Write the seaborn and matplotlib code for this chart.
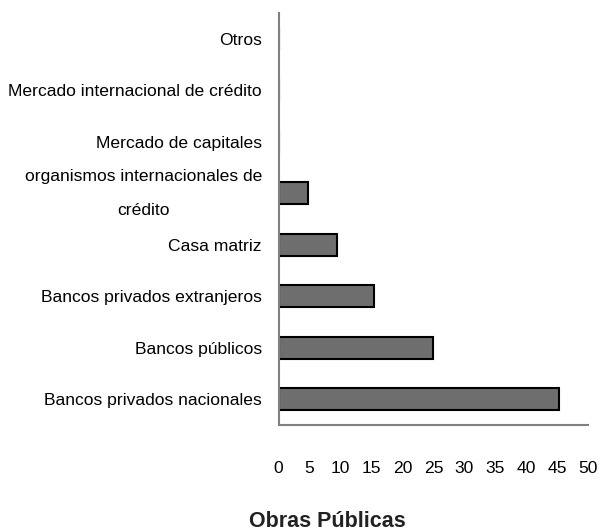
import matplotlib
matplotlib.use("Agg")
import matplotlib.pyplot as plt
import seaborn as sns
import pandas as pd
from matplotlib import font_manager

categories = [
    "Otros",
    "Mercado internacional de crédito",
    "Mercado de capitales",
    "organismos internacionales de\ncrédito",
    "Casa matriz",
    "Bancos privados extranjeros",
    "Bancos públicos",
    "Bancos privados nacionales",
]
values = [0, 0, 0, 4.7, 9.5, 15.4, 25.0, 45.3]
xticks = [0, 5, 10, 15, 20, 25, 30, 35, 40, 45, 50]
title = "Obras Públicas"

sns.set_style("white")
names = {f.name for f in font_manager.fontManager.ttflist}
if "Liberation Sans Narrow" in names:
    fam, fs = "Liberation Sans Narrow", 15
else:
    fam, fs = "Liberation Sans", 12.6
plt.rcParams["font.family"] = [fam, "DejaVu Sans"]
plt.rcParams["text.color"] = "black"
plt.rcParams["xtick.labelcolor"] = "black"
plt.rcParams["ytick.labelcolor"] = "black"

df = pd.DataFrame({"cat": categories, "val": values})

fig = plt.figure(figsize=(6.07, 5.31), dpi=100)
ax = fig.add_axes([0.459, 0.1996, 0.51, 0.7759])
sns.barplot(data=df, x="val", y="cat", order=categories, orient="h",
            color="#6e6e6e", edgecolor="black", linewidth=1.5, width=0.42,
            saturation=1, ax=ax)
ax.set_xlim(0, 50)
ax.set_ylim(7.5, -0.5)
ax.set_xticks(xticks)
ax.set_xticklabels([str(t) for t in xticks], fontsize=fs, color="black")
ax.tick_params(axis="x", length=6, width=1, color="#808080", direction="out", pad=20)
ax.tick_params(axis="y", length=0, pad=12, labelsize=fs)
for lab in ax.get_yticklabels():
    lab.set_multialignment("center")
    lab.set_color("black")
    if "\n" in lab.get_text():
        lab.set_linespacing(2.6)
        lab.set_verticalalignment("center")
ax.set_xlabel("")
ax.set_ylabel("")
for s in ["top", "right"]:
    ax.spines[s].set_visible(False)
for s in ["left", "bottom"]:
    ax.spines[s].set_color("#808080")
    ax.spines[s].set_linewidth(1.5)
fig.text(0.539, 1 - 527 / 531, title, ha="center", va="baseline",
         fontsize=15.5, fontweight="bold", family=["Liberation Sans", "DejaVu Sans"],
         color="#222222")
fig.savefig("out.png", dpi=100)
